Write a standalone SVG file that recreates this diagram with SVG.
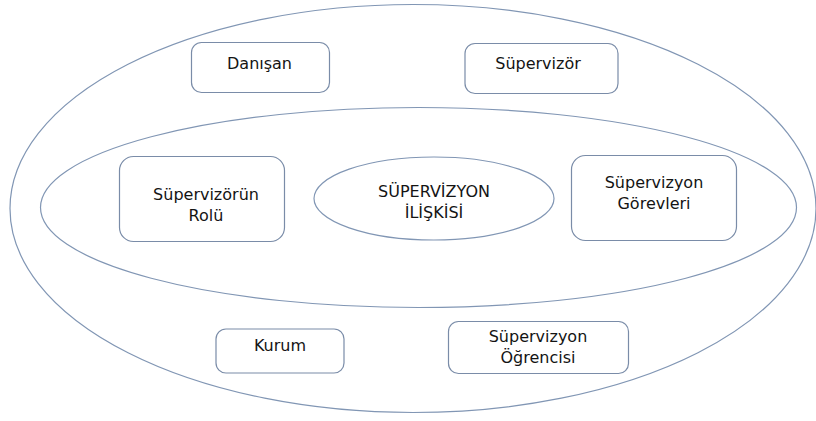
<svg xmlns="http://www.w3.org/2000/svg" width="816" height="421" viewBox="0 0 816 421">
<style>
.shape{fill:#ffffff;stroke:#8196b4;stroke-width:1.2}
.box{fill:#ffffff;stroke:#7a8ca8;stroke-width:1.2}
.t{font-family:"DejaVu Sans","Liberation Sans",sans-serif;font-size:16px;fill:#141414;text-anchor:middle}
</style>
<rect width="816" height="421" fill="#ffffff"/>
<g id="outer"><ellipse class="shape" cx="413" cy="208.5" rx="403" ry="204"/></g>
<g id="inner"><ellipse class="shape" cx="418.5" cy="207.5" rx="378" ry="100"/></g>
<g id="danisan"><rect class="box" x="191.5" y="42.5" width="138" height="50" rx="10"/><text class="t" x="259.5" y="69">Danışan</text></g>
<g id="supervizor"><rect class="box" x="465" y="43.5" width="153" height="50" rx="10"/><text class="t" x="538" y="69">Süpervizör</text></g>
<g id="rol"><rect class="box" x="119.5" y="156.5" width="165" height="85" rx="14"/><text class="t" x="206" y="200">Süpervizörün</text><text class="t" x="206" y="221">Rolü</text></g>
<g id="iliski"><ellipse class="shape" cx="434" cy="198.5" rx="120" ry="41.5"/><text class="t" x="434" y="197">SÜPERVİZYON</text><text class="t" x="434" y="218">İLİŞKİSİ</text></g>
<g id="gorevler"><rect class="box" x="571.5" y="155.5" width="165" height="85" rx="14"/><text class="t" x="654" y="188">Süpervizyon</text><text class="t" x="654" y="208.5">Görevleri</text></g>
<g id="kurum"><rect class="box" x="216" y="329" width="128" height="44" rx="10"/><text class="t" x="280" y="351">Kurum</text></g>
<g id="ogrenci"><rect class="box" x="448.5" y="321.5" width="180" height="52" rx="10"/><text class="t" x="538" y="342">Süpervizyon</text><text class="t" x="538" y="363">Öğrencisi</text></g>
<g id="connectors"></g>
</svg>
